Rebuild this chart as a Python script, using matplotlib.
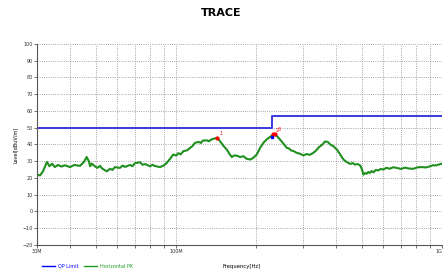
import numpy as np
import matplotlib
matplotlib.use('Agg')
import matplotlib.pyplot as plt
from matplotlib.lines import Line2D

# Frequency in MHz, levels in dBuV/m
limit_freq = [30, 230, 230, 1000]
limit_level = [50, 50, 57, 57]

trace_freq = [30, 30.8, 31.6, 32.7, 33.4, 34.2, 35.0, 36.0, 37.0, 38.2,
              39.9, 41.5, 43.5, 45.0, 46.1, 47.0, 47.5, 48.2, 49.0, 50.5,
              51.8, 52.6, 53.5, 54.9, 56.5, 57.6, 58.9, 61.5, 63.0, 64.3,
              67.1, 68.5, 70.0, 73.2, 74.8, 76.5, 79.8, 81.5, 83.0, 87.0,
              90.0, 92.2, 95.0, 97.6, 100, 102, 104, 106.5, 110, 112.9,
              115, 117.8, 122, 124, 126, 130.4, 133, 135, 139, 142.9,
              147, 151, 155, 158.5, 162, 165.5, 169, 174, 179, 184,
              190, 195, 201, 207, 213, 219, 225.6, 230, 235.6, 240,
              246, 253, 260.7, 266, 270, 277, 284, 292, 301, 310,
              318, 328, 336, 345, 354, 363, 372, 379.5, 390, 402,
              414, 425.7, 438, 451, 462, 470, 481, 492, 500, 506,
              513, 520, 528, 535, 543, 552, 563, 575, 588, 601,
              618, 635, 655, 676, 700, 725, 752, 780, 810, 840,
              870, 902, 925, 950, 975, 1000]
trace_level = [22.0, 21.5, 24.0, 29.6, 27.0, 28.5, 26.5, 27.8, 26.8, 27.6,
               26.5, 27.8, 27.2, 29.5, 32.5, 30.0, 27.0, 28.6, 27.5, 26.0,
               27.2, 25.8, 25.0, 24.0, 25.5, 24.8, 26.5, 26.0, 27.4, 26.6,
               27.8, 27.0, 28.8, 29.4, 27.9, 28.3, 27.0, 27.9, 27.2, 26.5,
               27.5, 29.0, 31.5, 34.0, 33.4, 34.8, 34.1, 36.0, 36.5, 38.0,
               38.9, 41.0, 41.5, 40.9, 42.3, 42.5, 41.9, 42.8, 43.5, 44.0,
               41.5, 39.0, 37.0, 34.5, 32.5, 33.5, 33.3, 32.5, 33.0, 31.5,
               31.0, 32.0, 34.0, 38.0, 41.0, 43.0, 44.5, 45.5, 45.8, 44.8,
               42.9, 40.5, 38.0, 37.6, 36.5, 36.0, 35.0, 34.5, 33.5, 34.3,
               33.8, 35.0, 36.4, 38.5, 39.8, 41.8, 41.5, 40.0, 39.0, 37.0,
               34.0, 31.0, 29.5, 28.4, 28.9, 28.0, 28.3, 27.5, 25.0, 22.0,
               23.0, 22.5, 23.6, 23.0, 24.1, 23.4, 24.8, 24.5, 25.4, 25.0,
               26.1, 25.5, 26.4, 26.0, 25.4, 26.2, 25.6, 25.5, 26.4, 26.5,
               26.3, 27.0, 27.6, 27.5, 28.1, 28.6]

marker_freq = [142.9, 232, 236]
marker_level = [44.0, 46.2, 46.4]
marker_label = ['1', '2', '3']
qp_freq = [230]
qp_level = [44.6]

fig = plt.figure(figsize=(4.43, 2.73), dpi=100)
ax = fig.add_axes([0.0835, 0.1026, 0.9145, 0.7364])

ax.plot(limit_freq, limit_level, color='#3a3adf', lw=1.4)
ax.plot(trace_freq, trace_level, color='#1f901f', lw=1.5)
ax.plot(marker_freq, marker_level, 'o', color='red', ms=2)
ax.plot(qp_freq, qp_level, 's', color='blue', ms=2)
for f, l, t in zip(marker_freq, marker_level, marker_label):
    ax.text(f * 1.02, l + 1.5, t, color='red', fontsize=3.5)

ax.set_xscale('log')
ax.set_xlim(30, 1000)
ax.set_ylim(-20, 100)
ax.set_xticks([30, 100, 1000])
ax.set_xticklabels(['30M', '100M', '1G'])
ax.get_xticklabels()[-1].set_horizontalalignment('right')
ax.set_xticks([40, 50, 60, 70, 80, 90, 200, 300, 400, 500, 600, 700, 800, 900],
              minor=True)
ax.set_xticklabels([], minor=True)
ax.set_yticks(np.arange(-20, 101, 10))
ax.tick_params(axis='both', which='both', length=2, width=0.5, labelsize=3.5,
               colors='#333333', pad=1)
ax.grid(True, which='both', color='#888888', ls=':', lw=0.6)

for s in ['top', 'right']:
    ax.spines[s].set_visible(False)
for s in ['left', 'bottom']:
    ax.spines[s].set_color('#555555')
    ax.spines[s].set_linewidth(0.8)

ax.set_ylabel('Level[dBuV/m]', fontsize=3.5, labelpad=3)
fig.text(0.545, 0.02, 'Frequency[Hz]', fontsize=3.8, ha='center')
fig.text(0.5, 0.952, 'TRACE', fontsize=8, fontweight='bold', ha='center',
         va='center')

fig.add_artist(Line2D([0.095, 0.125], [0.025, 0.025], color='blue', lw=1.0))
fig.text(0.13, 0.025, 'QP Limit', fontsize=3.5, color='blue', va='center')
fig.add_artist(Line2D([0.19, 0.22], [0.025, 0.025], color='#229922', lw=1.0))
fig.text(0.225, 0.025, 'Horizontal PK', fontsize=3.5, color='#229922', va='center')

fig.savefig('out.png', dpi=100)
